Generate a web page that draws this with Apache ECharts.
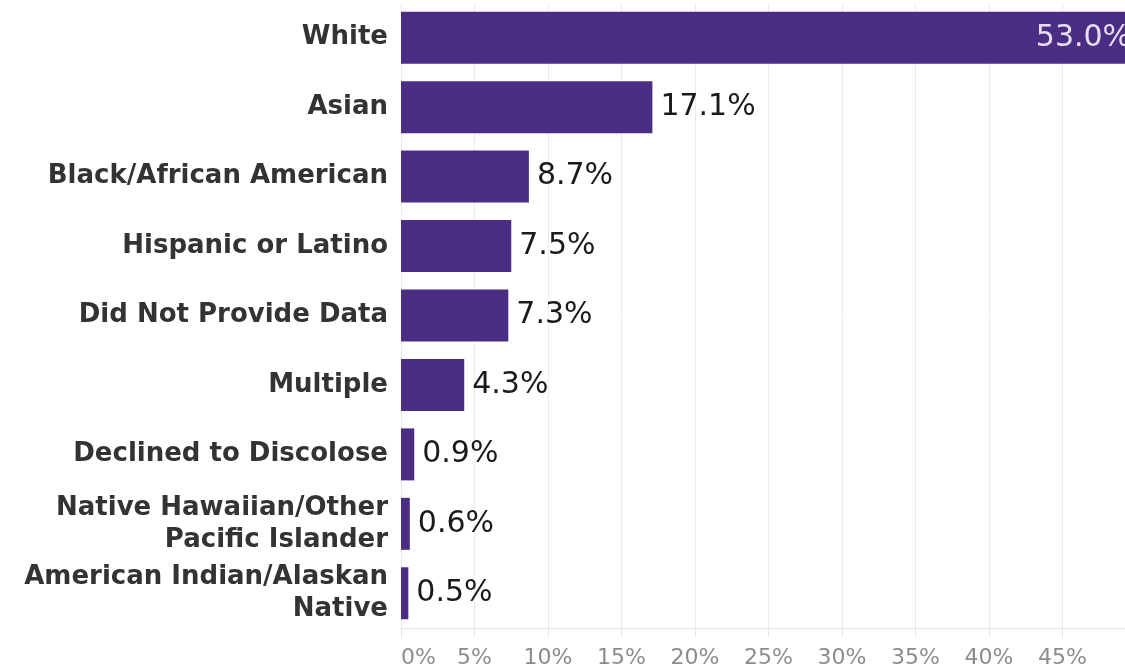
<!DOCTYPE html>
<html>
<head>
<meta charset="utf-8">
<script src="https://cdn.jsdelivr.net/npm/echarts@6/dist/echarts.min.js"></script>
<style>
html,body{margin:0;padding:0;background:#fff;}
#chart{width:1125px;height:671px;}
</style>
</head>
<body>
<div id="chart"></div>
<script>
const categories = [
  "White",
  "Asian",
  "Black/African American",
  "Hispanic or Latino",
  "Did Not Provide Data",
  "Multiple",
  "Declined to Discolose",
  "Native Hawaiian/Other\nPacific Islander",
  "American Indian/Alaskan\nNative"
];
const values = [53.0, 17.1, 8.7, 7.5, 7.3, 4.3, 0.9, 0.6, 0.5];
const tickValues = [0, 5, 10, 15, 20, 25, 30, 35, 40, 45];

const chart = echarts.init(document.getElementById('chart'));
const barColor = '#4b2e83';

const seriesData = values.map((v, i) => {
  if (i === 0) {
    return {
      value: v,
      label: {
        position: 'insideRight',
        offset: [-41, 0],
        color: '#e6def5'
      }
    };
  }
  return { value: v };
});

chart.setOption({
  animation: false,
  grid: { left: 401, top: 3, height: 625, right: 0, containLabel: false },
  xAxis: {
    type: 'value',
    min: 0,
    max: 49.25,
    interval: 5,
    axisLine: { show: true, lineStyle: { color: '#e3e3e3', width: 1 } },
    axisTick: { show: true, length: 9, lineStyle: { color: '#e3e3e3' } },
    splitLine: { show: true, lineStyle: { color: '#ebebeb', width: 1 } },
    axisLabel: {
      margin: 19,
      fontFamily: 'DejaVu Sans',
      fontSize: 22,
      color: '#8c8c8c',
      alignMinLabel: 'left',
      showMaxLabel: false,
      formatter: function (v) {
        return tickValues.indexOf(v) >= 0 ? v + '%' : '';
      }
    }
  },
  yAxis: {
    type: 'category',
    data: categories,
    inverse: true,
    axisLine: { show: false },
    axisTick: { show: false },
    splitLine: { show: false },
    axisLabel: {
      margin: 13,
      fontFamily: 'DejaVu Sans',
      fontWeight: 'bold',
      fontSize: 26,
      lineHeight: 32,
      color: '#333333',
      align: 'right'
    }
  },
  series: [{
    type: 'bar',
    data: seriesData,
    barWidth: 52,
    clip: false,
    itemStyle: { color: barColor },
    label: {
      show: true,
      position: 'right',
      distance: 8,
      fontFamily: 'DejaVu Sans',
      fontSize: 30,
      color: '#1a1a1a',
      formatter: function (p) { return p.value.toFixed(1) + '%'; }
    }
  }]
});
</script>
</body>
</html>
